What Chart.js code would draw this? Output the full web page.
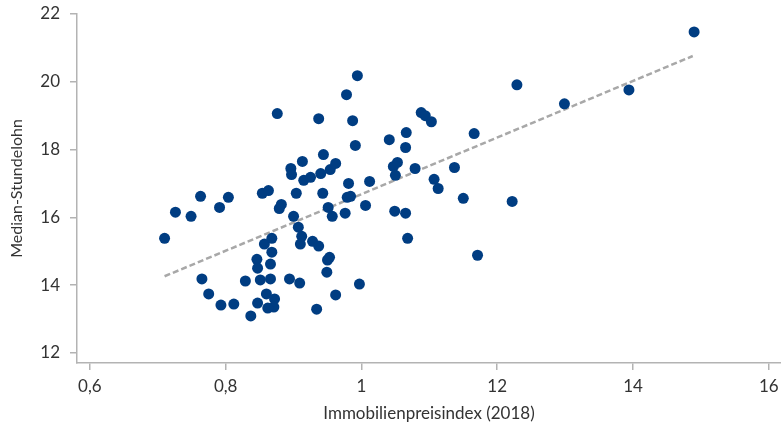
<!DOCTYPE html>
<html>
<head>
<meta charset="utf-8">
<script src="https://cdn.jsdelivr.net/npm/chart.js@4.4.0/dist/chart.umd.min.js"></script>
<style>
  html, body { margin: 0; padding: 0; background: #fff; }
  #wrap { width: 781px; height: 422px; }
</style>
</head>
<body>
<div id="wrap"><canvas id="myChart" width="781" height="422"></canvas></div>
<script>
// Immobilienpreisindex (x) vs Median-Stundelohn (y)
const priceIndex = [
  0.710, 0.726, 0.749, 0.763, 0.765, 0.775, 0.791, 0.793, 0.804, 0.812,
  0.829, 0.837, 0.846, 0.847, 0.847, 0.851, 0.854, 0.863, 0.857, 0.868,
  0.868, 0.866, 0.866, 0.860, 0.872, 0.871, 0.862, 0.876, 0.882, 0.879,
  0.896, 0.897, 0.913, 0.904, 0.900, 0.907, 0.912, 0.910, 0.894, 0.909,
  0.915, 0.925, 0.937, 0.940, 0.943, 0.928, 0.937, 0.934, 0.944, 0.954,
  0.962, 0.951, 0.957, 0.950, 0.953, 0.949, 0.962, 0.978, 0.981, 0.979,
  0.984, 0.976, 0.987, 0.991, 0.994, 0.997, 1.012, 1.006, 1.041, 1.047,
  1.053, 1.050, 1.049, 1.065, 1.065, 1.066, 1.068, 1.079, 1.088, 1.094,
  1.103, 1.107, 1.113, 1.137, 1.150, 1.166, 1.171, 1.222, 1.229, 1.299,
  1.394, 1.490
];
const medianWage = [
  15.38, 16.15, 16.03, 16.62, 14.18, 13.74, 16.29, 13.41, 16.59, 13.44,
  14.12, 13.09, 14.76, 14.50, 13.47, 14.15, 16.71, 16.79, 15.21, 15.38,
  14.97, 14.62, 14.18, 13.74, 13.59, 13.35, 13.32, 19.06, 16.38, 16.26,
  17.44, 17.26, 17.65, 16.71, 16.03, 15.71, 15.44, 15.21, 14.18, 14.06,
  17.09, 17.18, 18.91, 17.29, 16.71, 15.29, 15.15, 13.29, 17.85, 17.41,
  17.59, 16.29, 16.03, 14.74, 14.82, 14.38, 13.71, 19.62, 17.00, 16.59,
  16.62, 16.12, 18.85, 18.12, 20.18, 14.03, 17.06, 16.35, 18.29, 17.50,
  17.62, 17.24, 16.18, 16.12, 18.06, 18.50, 15.38, 17.44, 19.09, 19.00,
  18.82, 17.12, 16.85, 17.47, 16.56, 18.47, 14.88, 16.47, 19.91, 19.35,
  19.76, 21.47
];
// dashed trend line, start and end
const trendX = [0.710, 1.488];
const trendY = [14.26, 20.76];

const xTickValues = [0.6, 0.8, 1.0, 1.2, 1.4, 1.6];
const xTickLabels = ['0,6', '0,8', '1', '12', '14', '16'];
const yTickValues = [12, 14, 16, 18, 20, 22];

const fontFamily = "Lato, 'Noto Sans', sans-serif";
const textColor = '#333333';
const axisColor = '#b3b3b3';

const points = priceIndex.map((x, i) => ({ x: x, y: medianWage[i] }));
const trend = trendX.map((x, i) => ({ x: x, y: trendY[i] }));

Chart.defaults.font.family = fontFamily;
Chart.defaults.color = textColor;

new Chart('myChart', {
  type: 'scatter',
  data: {
    datasets: [
      {
        label: 'Regionen',
        data: points,
        backgroundColor: '#003d82',
        borderColor: '#003d82',
        pointRadius: 5.5,
        pointHoverRadius: 5.5,
        borderWidth: 0
      },
      {
        label: 'Trend',
        data: trend,
        showLine: true,
        pointRadius: 0,
        borderColor: '#a8a8a8',
        borderWidth: 2.5,
        borderDash: [6, 3],
        fill: false
      }
    ]
  },
  options: {
    responsive: false,
    animation: false,
    layout: { autoPadding: false, padding: { top: 14, right: 0, left: 0, bottom: 0 } },
    plugins: {
      legend: { display: false },
      tooltip: { enabled: false }
    },
    scales: {
      x: {
        type: 'linear',
        min: 0.581,
        max: 1.618,
        afterBuildTicks: (scale) => { scale.ticks = xTickValues.map(v => ({ value: v })); },
        afterFit: (scale) => {
          scale.height = 59;
          scale.paddingLeft = 0;
          scale.paddingRight = 0;
        },
        ticks: {
          padding: 6,
          font: { size: 17 },
          color: textColor,
          callback: (value) => {
            const i = xTickValues.findIndex(v => Math.abs(v - value) < 1e-6);
            return i >= 0 ? xTickLabels[i] : '';
          }
        },
        grid: { drawOnChartArea: false, drawTicks: true, tickLength: 7, color: axisColor, lineWidth: 1.5 },
        border: { display: true, color: axisColor, width: 1.5 },
        title: {
          display: true,
          text: 'Immobilienpreisindex (2018)',
          font: { size: 17 },
          color: textColor,
          padding: { top: 0, bottom: -2 }
        }
      },
      y: {
        type: 'linear',
        min: 11.7,
        max: 22,
        afterBuildTicks: (scale) => { scale.ticks = yTickValues.map(v => ({ value: v })); },
        afterFit: (scale) => {
          scale.width = 77;
          scale.paddingTop = 0;
          scale.paddingBottom = 0;
        },
        ticks: {
          padding: 10,
          font: { size: 17 },
          color: textColor
        },
        grid: { drawOnChartArea: false, drawTicks: true, tickLength: 7, color: axisColor, lineWidth: 1.5 },
        border: { display: true, color: axisColor, width: 1.5 },
        title: {
          display: true,
          text: 'Median-Stundelohn',
          font: { size: 16 },
          color: textColor,
          padding: { top: 7, bottom: 0 }
        }
      }
    }
  }
});
</script>
</body>
</html>
